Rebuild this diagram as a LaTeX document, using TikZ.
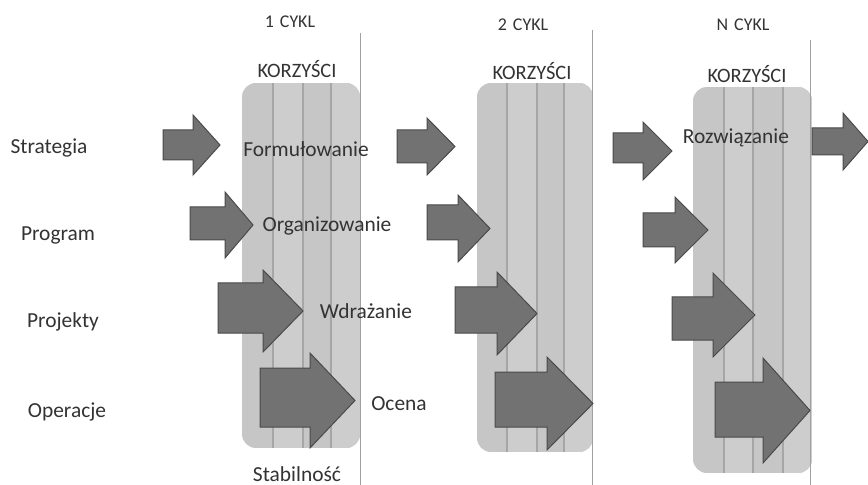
\documentclass[tikz,border=0pt]{standalone}
\usepackage{fontspec}
\setmainfont{Carlito}
\definecolor{txt}{HTML}{333333}
\definecolor{panelfill}{HTML}{C6C6C6}
\definecolor{stripeA}{HTML}{CDCDCD}
\definecolor{stripeline}{HTML}{A6A6A6}
\definecolor{arrowfill}{HTML}{727272}
\definecolor{arrowdraw}{HTML}{4A4A4A}
\definecolor{sepline}{HTML}{A0A0A0}
\tikzset{
  panel/.style={fill=panelfill, draw=none, rounded corners=14bp},
  stripe/.style={draw=stripeline, line width=1.2bp},
  sep/.style={draw=sepline, line width=1bp},
  blockarrow/.style={fill=arrowfill, draw=arrowdraw, line width=1bp, line join=miter},
  lbl/.style={text=txt, font=\fontsize{21.5}{24}\selectfont, inner sep=0pt},
  hdr/.style={text=txt, font=\fontsize{18}{20}\selectfont, inner sep=0pt},
  kor/.style={text=txt, font=\fontsize{20.5}{22}\selectfont, inner sep=0pt}
}
% #1 shaft left, #2 head base, #3 tip, #4 shaft top, #5 shaft bottom, #6 head top, #7 head bottom
\newcommand{\bigarrow}[7]{%
  \path[blockarrow] (#1,#4) -- (#2,#4) -- (#2,#6) -- (#3,{(#6+#7)/2}) -- (#2,#7) -- (#2,#5) -- (#1,#5) -- cycle;}
% #1 left, #2 right, #3 top, #4 bottom, #5 #6 #7 stripe lines
\newcommand{\panelbox}[7]{%
  \begin{scope}
    \clip[rounded corners=14bp] (#1,#3) rectangle (#2,#4);
    \fill[panelfill] (#1,#3) rectangle (#2,#4);
    \fill[stripeA] (#5,#3) rectangle (#6,#4);
    \fill[stripeA] (#7,#3) rectangle (#2,#4);
    \draw[stripe] (#5,#3) -- (#5,#4);
    \draw[stripe] (#6,#3) -- (#6,#4);
    \draw[stripe] (#7,#3) -- (#7,#4);
  \end{scope}}
\begin{document}
\begin{tikzpicture}[x=1bp,y=-1bp]
\useasboundingbox (0,0) rectangle (868,485);
\clip (0,0) rectangle (868,485);
\fill[white] (0,0) rectangle (868,485);

% panels
\panelbox{242}{360}{83}{448}{273}{303}{331}
\panelbox{477}{593}{83}{452}{507}{537}{564}
\panelbox{693}{812}{87}{473}{724}{753}{783}

% separator lines
\draw[sep] (360,33) -- (360,485);
\draw[sep] (592,30) -- (592,485);
\draw[sep] (810,40) -- (810,485);

% panel 1 arrows
\bigarrow{163}{193}{220}{130}{160}{115}{175}
\bigarrow{190}{225}{253}{207}{240}{192}{258}
\bigarrow{218}{263}{303}{283}{333}{270}{352}
\bigarrow{260}{310}{355}{368}{427}{353}{448}
% panel 2 arrows
\bigarrow{397}{427}{455}{130}{163}{118}{175}
\bigarrow{427}{458}{490}{205}{240}{195}{262}
\bigarrow{455}{497}{537}{287}{333}{272}{355}
\bigarrow{495}{547}{593}{372}{427}{357}{450}
% panel 3 arrows
\bigarrow{613}{643}{672}{133}{163}{122}{180}
\bigarrow{643}{675}{708}{213}{247}{197}{263}
\bigarrow{672}{713}{755}{297}{340}{273}{357}
\bigarrow{715}{763}{810}{382}{437}{358}{463}
\bigarrow{812}{843}{868}{128}{155}{113}{170}

% row labels
\node[lbl] (strategia) at (49,148) {Strategia};
\node[lbl] (program) at (58,235) {Program};
\node[lbl] (projekty) at (63,322) {Projekty};
\node[lbl] (operacje) at (67,412) {Operacje};

% headers
\node[hdr] (c1) at (290,22) {1\,\,CYKL};
\node[kor] (k1) at (297,69) {KORZYŚCI};
\node[hdr] (c2) at (523,25) {2\,\,CYKL};
\node[kor] (k2) at (532,71) {KORZYŚCI};
\node[hdr] (c3) at (743,25) {N\,\,CYKL};
\node[kor] (k3) at (747,74) {KORZYŚCI};

% stage labels
\node[lbl] (form) at (306,149) {Formułowanie};
\node[lbl] (org) at (327,226) {Organizowanie};
\node[lbl] (wdr) at (366,311) {Wdrażanie};
\node[lbl] (oc) at (399,404) {Ocena};
\node[lbl] (rozw) at (736,138) {Rozwiązanie};
\node[lbl, anchor=base] (stab) at (297,481) {Stabilność};
\end{tikzpicture}
\end{document}
